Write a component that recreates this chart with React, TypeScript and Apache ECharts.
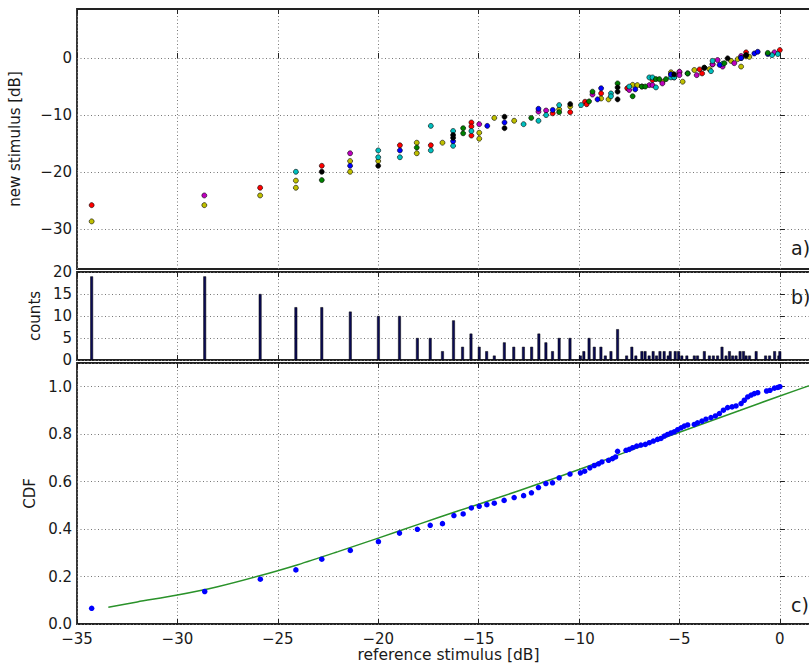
import React, { useEffect, useRef } from "react";
import * as echarts from "echarts";

// ---------- data ----------
const xTicks = [-35, -30, -25, -20, -15, -10, -5, 0];
const aYTicks = [-30, -20, -10, 0];

// panel a) new stimulus vs reference stimulus, one list per colour
const redPts = [
  [-34.27, -25.8], [-25.88, -22.75], [-22.81, -18.9], [-18.92, -15.3], [-17.38, -15.3],
  [-15.36, -11.3], [-15.36, -12.0], [-15.36, -13.6], [-11.31, -9.7], [-10.44, -9.5],
  [-9.7, -7.66], [-9.62, -8.1], [-8.9, -6.2], [-7.6, -5.3], [-6.87, -5.0], [-6.34, -3.85],
  [-5.0, -2.5], [-4.0, -2.0], [-3.87, -2.7], [-3.35, -1.1], [-1.68, 1.0], [0.0, 1.4],
];
const yellowPts = [
  [-34.27, -28.65], [-28.66, -25.8], [-25.88, -24.1], [-24.1, -21.5], [-24.1, -22.75],
  [-21.4, -18.07], [-21.4, -19.95], [-20.0, -18.07], [-18.08, -14.85], [-18.08, -16.7],
  [-16.8, -14.85], [-14.97, -13.1], [-14.97, -14.15], [-14.22, -10.5], [-13.23, -11.0],
  [-10.99, -9.0], [-10.44, -8.5], [-8.9, -7.1], [-8.53, -7.25], [-7.33, -4.7], [-7.1, -4.75],
  [-5.85, -4.2], [-5.42, -2.5], [-4.84, -4.15], [-4.26, -2.1], [-3.51, -1.95], [-2.43, -0.5],
  [-2.1, -0.2], [-1.93, -1.5], [-1.68, 0.3], [-1.52, 0.2],
];
const magentaPts = [
  [-28.66, -24.1], [-21.4, -16.7], [-14.97, -11.6], [-12.02, -9.4], [-11.64, -9.2],
  [-9.33, -6.4], [-7.5, -5.6], [-6.5, -4.75], [-6.34, -4.75], [-5.85, -4.45], [-5.42, -2.87],
  [-5.26, -3.4], [-5.0, -2.4], [-5.0, -3.0], [-4.14, -3.0], [-3.35, -1.1], [-3.1, -0.35],
  [-2.85, -1.5], [-2.27, -0.9], [-1.93, 0.35], [-0.27, 1.0],
];
const cyanPts = [
  [-24.1, -19.95], [-20.0, -16.2], [-20.0, -17.4], [-18.92, -17.4], [-17.38, -11.9],
  [-17.38, -16.2], [-16.27, -12.8], [-16.27, -15.4], [-15.36, -12.8], [-12.76, -11.6],
  [-12.02, -11.0], [-11.64, -10.0], [-10.99, -8.25], [-9.9, -8.25], [-8.41, -6.2],
  [-8.41, -6.7], [-7.5, -5.0], [-6.5, -3.4], [-6.34, -3.4], [-6.17, -5.15], [-5.42, -3.4],
  [-5.26, -3.4], [-3.43, -2.3], [-3.35, -0.5], [-2.85, -1.0], [-1.93, 0.0], [-0.39, 0.5],
  [-0.1, 0.7],
];
const bluePts = [
  [-21.4, -18.9], [-18.92, -16.2], [-16.27, -14.6], [-14.57, -11.9], [-13.71, -11.3],
  [-12.02, -8.9], [-11.31, -9.1], [-9.08, -7.25], [-8.9, -5.3], [-7.2, -5.5], [-5.42, -2.87],
  [-4.59, -2.7], [-3.0, -1.2], [-1.93, 0.0], [-1.27, 0.8], [-1.1, 1.1], [-0.6, 0.7],
];
const greenPts = [
  [-22.81, -21.4], [-18.08, -15.7], [-15.77, -12.3], [-15.77, -13.2], [-12.38, -10.5],
  [-10.99, -9.5], [-9.5, -7.6], [-9.33, -5.9], [-8.08, -4.45], [-7.33, -6.7], [-6.87, -5.0],
  [-6.7, -5.0], [-6.17, -3.7], [-6.0, -3.7], [-5.67, -3.7], [-4.59, -2.7], [-3.76, -1.7],
  [-2.76, -0.9], [-1.68, 0.5], [-0.6, 0.9],
];
const blackPts = [
  [-22.81, -19.95], [-20.0, -18.9], [-16.27, -13.5], [-16.27, -14.0], [-13.71, -10.3],
  [-13.71, -12.3], [-10.44, -8.07], [-8.08, -5.15], [-8.08, -5.9], [-8.08, -7.25],
  [-5.26, -2.87], [-3.76, -1.7], [-2.6, -0.05], [-1.68, 0.5],
];

// panel b) histogram
const histX = [
  -34.27, -28.64, -25.88, -24.1, -22.81, -21.39, -19.99, -18.94, -18.05, -17.41, -16.8, -16.25,
  -15.8, -15.38, -14.97, -14.6, -14.22, -13.72, -13.25, -12.77, -12.36, -12.0, -11.65, -11.32,
  -10.99, -10.45, -9.93, -9.76, -9.5, -9.24, -8.91, -8.69, -8.41, -8.08, -7.63, -7.37, -7.17,
  -6.87, -6.71, -6.51, -6.31, -6.14, -5.97, -5.76, -5.56, -5.46, -5.21, -5.04, -4.88, -4.63,
  -4.26, -4.1, -3.76, -3.51, -3.31, -3.1, -2.88, -2.68, -2.51, -2.35, -2.18, -1.98, -1.81,
  -1.68, -1.51, -1.18, -0.71, -0.51, -0.26, -0.05, 0.0,
];
const histCounts = [
  19, 19, 15, 12, 12, 11, 10, 10, 5, 5, 2, 9,
  3, 6, 3, 2, 1, 4, 3, 3, 3, 6, 4, 2,
  5, 5, 1, 2, 5, 3, 3, 1, 2, 7, 1, 3, 1,
  2, 2, 1, 2, 1, 2, 2, 1, 2, 2, 2, 1, 1,
  1, 1, 2, 1, 1, 1, 3, 1, 2, 1, 1, 2, 2,
  1, 1, 2, 1, 1, 2, 1, 2,
];

// panel c) empirical CDF and fitted curve
const cdfX = [
  -34.27, -28.64, -25.87, -24.1, -22.81, -21.39, -19.99, -18.94, -18.05, -17.41, -16.8, -16.23,
  -15.77, -15.36, -14.97, -14.59, -14.22, -13.73, -13.23, -12.76, -12.37, -12.02, -11.65, -11.32,
  -10.99, -10.45, -9.93, -9.72, -9.46, -9.24, -9.03, -8.86, -8.53, -8.33, -8.18, -8.08, -7.66,
  -7.5, -7.33, -7.13, -6.92, -6.7, -6.5, -6.3, -6.09, -5.92, -5.75, -5.59, -5.42, -5.26, -5.09,
  -4.92, -4.76, -4.59, -4.26, -4.1, -3.88, -3.68, -3.43, -3.21, -3.01, -2.81, -2.6, -2.38, -2.18,
  -1.93, -1.77, -1.6, -1.43, -1.27, -1.1, -0.66, -0.49, -0.27, -0.1, 0.0,
];
const cdfY = [
  0.066, 0.137, 0.189, 0.228, 0.273, 0.31, 0.347, 0.383, 0.399, 0.416, 0.423, 0.457,
  0.464, 0.489, 0.496, 0.503, 0.509, 0.521, 0.533, 0.541, 0.553, 0.575, 0.592, 0.595,
  0.616, 0.632, 0.637, 0.644, 0.658, 0.668, 0.675, 0.683, 0.69, 0.697, 0.704, 0.728, 0.732,
  0.736, 0.743, 0.75, 0.754, 0.757, 0.764, 0.771, 0.778, 0.782, 0.792, 0.799, 0.805, 0.81, 0.819,
  0.827, 0.834, 0.839, 0.841, 0.848, 0.855, 0.863, 0.87, 0.877, 0.887, 0.901, 0.912, 0.915, 0.919,
  0.929, 0.943, 0.957, 0.965, 0.971, 0.975, 0.982, 0.985, 0.994, 0.997, 1.0,
];
const fitX = [-33.44, -32, -30, -28, -26, -24, -22, -20, -18, -16, -14, -12, -10, -8, -6, -4, -2, 0, 2];
const fitY = [0.071, 0.093, 0.122, 0.157, 0.201, 0.25, 0.305, 0.362, 0.42, 0.477, 0.533, 0.591, 0.651, 0.714, 0.777, 0.839, 0.9, 0.961, 1.02];

// ---------- styling ----------
const FONT = "DejaVu Sans";
const TXT = "#1a1a1a";
const GRIDLINE = { color: "#777", width: 1, type: [1, 2.5] as any };
const minus = (v: number) => (v < 0 ? "\u2212" + String(Math.abs(v)) : String(v));

const X_MIN = -35;
const X_MAX = 2;
const TICK_FS = 15;
const NAME_FS = 15;

function bottomX(gridIndex: number, showLabels: boolean) {
  return {
    type: "value",
    gridIndex,
    min: X_MIN,
    max: X_MAX,
    interval: 5,
    axisLine: { show: false },
    axisTick: { show: true, inside: true, length: 5, lineStyle: { color: "#222", width: 1 } },
    axisLabel: {
      show: showLabels,
      showMaxLabel: false,
      fontFamily: FONT,
      fontSize: TICK_FS,
      color: TXT,
      margin: 7,
      formatter: (v: number) => minus(v),
    },
    splitLine: { show: true, lineStyle: GRIDLINE },
    ...(showLabels
      ? {
          name: "reference stimulus [dB]",
          nameLocation: "middle",
          nameGap: 22,
          nameTextStyle: { fontFamily: FONT, fontSize: 15.5, color: TXT },
        }
      : {}),
  };
}

function topX(gridIndex: number) {
  return {
    type: "value",
    gridIndex,
    position: "top",
    min: X_MIN,
    max: X_MAX,
    interval: 5,
    axisLine: { show: false },
    axisTick: { show: true, inside: true, length: 5, lineStyle: { color: "#222", width: 1 } },
    axisLabel: { show: false },
    splitLine: { show: false },
  };
}

const yBase = {
  axisLine: { show: false },
  axisTick: { show: true, inside: true, length: 5, lineStyle: { color: "#222", width: 1 } },
  splitLine: { show: true, lineStyle: GRIDLINE },
  nameLocation: "middle",
  nameTextStyle: { fontFamily: FONT, fontSize: NAME_FS, color: TXT },
};

const scatterSeries = (name: string, data: number[][], color: string) => ({
  name,
  type: "scatter",
  xAxisIndex: 0,
  yAxisIndex: 0,
  symbol: "circle",
  symbolSize: 5,
  data,
  itemStyle: { color, borderColor: "#000", borderWidth: 0.6, opacity: 1 },
  z: 3,
});

export default function App() {
  const ref = useRef<HTMLDivElement>(null);
  useEffect(() => {
    if (!ref.current) return;
    const chart = echarts.init(ref.current, null, { renderer: "svg" });
    const gridCommon = {
      left: 77,
      width: 743,
      show: true,
      borderColor: "#222",
      borderWidth: 1.8,
      backgroundColor: "transparent",
      containLabel: false,
      outerBoundsMode: "none",
    };
    const option: any = {
      animation: false,
      backgroundColor: "#fff",
      textStyle: { fontFamily: FONT },
      grid: [
        { ...gridCommon, top: 9, height: 260 },
        { ...gridCommon, top: 272, height: 88 },
        { ...gridCommon, top: 363, height: 261 },
      ],
      xAxis: [bottomX(0, false), bottomX(1, false), bottomX(2, true), topX(0), topX(1), topX(2)],
      yAxis: [
        {
          ...yBase,
          type: "value",
          gridIndex: 0,
          min: -37,
          max: 8.6,
          name: "new stimulus [dB]",
          nameGap: 55,
          axisTick: { ...yBase.axisTick, customValues: aYTicks },
          axisLabel: {
            customValues: aYTicks,
            fontFamily: FONT,
            fontSize: TICK_FS,
            color: TXT,
            margin: 5,
            formatter: (v: number) => minus(v),
          },
        },
        {
          ...yBase,
          type: "value",
          gridIndex: 1,
          min: 0,
          max: 20,
          interval: 5,
          name: "counts",
          nameGap: 33,
          axisLabel: { fontFamily: FONT, fontSize: TICK_FS, color: TXT, margin: 5 },
        },
        {
          ...yBase,
          type: "value",
          gridIndex: 2,
          min: 0,
          max: 1.1,
          interval: 0.2,
          name: "CDF",
          nameGap: 40,
          axisLabel: {
            fontFamily: FONT,
            fontSize: TICK_FS,
            color: TXT,
            margin: 5,
            showMaxLabel: false,
            formatter: (v: number) => v.toFixed(1),
          },
        },
      ],
      series: [
        scatterSeries("r", redPts, "#ff0000"),
        scatterSeries("y", yellowPts, "#bfbf00"),
        scatterSeries("m", magentaPts, "#bf00bf"),
        scatterSeries("c", cyanPts, "#00bfbf"),
        scatterSeries("b", bluePts, "#0000ff"),
        scatterSeries("g", greenPts, "#008000"),
        scatterSeries("k", blackPts, "#000000"),
        {
          name: "counts",
          type: "bar",
          xAxisIndex: 1,
          yAxisIndex: 1,
          barWidth: 2.8,
          data: histX.map((x, i) => [x, histCounts[i]]),
          itemStyle: { color: "#0b0b55", borderColor: "#000", borderWidth: 0.5 },
          z: 3,
        },
        {
          name: "fit",
          type: "line",
          xAxisIndex: 2,
          yAxisIndex: 2,
          data: fitX.map((x, i) => [x, fitY[i]]),
          showSymbol: false,
          smooth: 0.3,
          lineStyle: { color: "#2a922a", width: 1.5 },
          z: 3,
        },
        {
          name: "cdf",
          type: "scatter",
          xAxisIndex: 2,
          yAxisIndex: 2,
          symbolSize: 5.5,
          data: cdfX.map((x, i) => [x, cdfY[i]]),
          itemStyle: { color: "#0000ff", opacity: 1 },
          z: 4,
        },
      ],
      graphic: [
        { type: "text", x: 791, y: 248, style: { text: "a)", fontFamily: FONT, fontSize: 19, fill: TXT, verticalAlign: "middle" } },
        { type: "text", x: 791, y: 297, style: { text: "b)", fontFamily: FONT, fontSize: 19, fill: TXT, verticalAlign: "middle" } },
        { type: "text", x: 791, y: 605, style: { text: "c)", fontFamily: FONT, fontSize: 19, fill: TXT, verticalAlign: "middle" } },
      ],
    };
    chart.setOption(option);
    return () => chart.dispose();
  }, []);
  return (
    <div style={{ position: "fixed", left: 0, top: 0, width: 809, height: 664, overflow: "hidden", background: "#fff" }}>
      <div ref={ref} style={{ width: 840, height: 664 }} />
    </div>
  );
}
